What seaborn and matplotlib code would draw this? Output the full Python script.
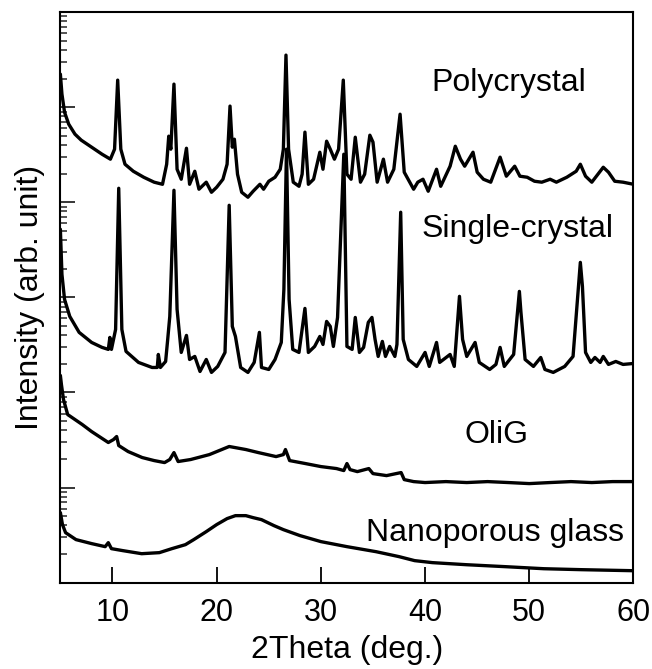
import numpy as np
import pandas as pd
import matplotlib
matplotlib.use("Agg")
import matplotlib.pyplot as plt
import seaborn as sns
from matplotlib.ticker import LogLocator, NullFormatter, FixedLocator

# ---------------- data (2theta in deg, log10 of intensity in arb. units) ----------------
poly_2theta = [5.0, 5.15, 5.4, 5.8, 6.4, 7.0, 8.0, 9.0, 9.8, 10.2, 10.5, 10.8, 11.2, 12.0, 13.0,
               14.0, 14.8, 15.2, 15.4, 15.6, 15.9, 16.2, 16.6, 17.1, 17.4, 17.9, 18.3, 19.0, 19.5,
               20.0, 20.6, 21.0, 21.28, 21.5, 21.7, 22.0, 22.4, 23.0, 23.5, 24.15, 24.5, 25.0,
               25.6, 26.1, 26.4, 26.65, 26.9, 27.35, 27.9, 28.2, 28.47, 28.8, 29.3, 29.9, 30.2,
               30.55, 30.9, 31.3, 31.7, 32.15, 32.5, 32.9, 33.3, 33.8, 34.2, 34.7, 35.0, 35.4,
               36.0, 36.4, 37.0, 37.6, 38.0, 38.9, 39.3, 39.8, 40.3, 41.1, 41.5, 42.4, 42.9,
               43.4, 43.8, 44.6, 45.0, 45.6, 46.3, 47.2, 47.8, 48.6, 49.1, 49.8, 50.5, 51.2,
               52.0, 52.6, 53.6, 54.5, 54.9, 55.4, 56.0, 57.1, 57.6, 58.2, 59.0, 60.0]
poly_log = [5.347, 5.137, 4.947, 4.821, 4.716, 4.653, 4.579, 4.505, 4.453, 4.558, 5.284, 4.558,
            4.400, 4.326, 4.263, 4.211, 4.189, 4.400, 4.695, 4.558, 5.242, 4.347, 4.242, 4.568,
            4.189, 4.326, 4.137, 4.211, 4.105, 4.158, 4.242, 4.400, 5.011, 4.579, 4.663, 4.295,
            4.105, 4.053, 4.116, 4.189, 4.137, 4.221, 4.263, 4.347, 4.558, 5.547, 4.558, 4.211,
            4.168, 4.295, 4.737, 4.189, 4.242, 4.526, 4.347, 4.642, 4.558, 4.453, 4.558, 5.284,
            4.295, 4.242, 4.684, 4.211, 4.295, 4.705, 4.632, 4.211, 4.453, 4.211, 4.347, 4.926,
            4.316, 4.137, 4.211, 4.242, 4.116, 4.347, 4.168, 4.379, 4.589, 4.453, 4.379, 4.526,
            4.316, 4.242, 4.211, 4.474, 4.274, 4.379, 4.274, 4.263, 4.221, 4.211, 4.242, 4.211,
            4.263, 4.326, 4.400, 4.274, 4.211, 4.368, 4.316, 4.221, 4.211, 4.189]

single_2theta = [5.0, 5.15, 5.4, 5.9, 6.8, 8.0, 9.0, 9.6, 9.75, 9.9, 10.3, 10.6, 10.9, 11.3, 12.5,
                 13.8, 14.3, 14.4, 14.6, 15.1, 15.3, 15.5, 15.9, 16.2, 16.6, 17.1, 17.4, 17.9,
                 18.4, 19.0, 19.5, 20.1, 20.8, 21.2, 21.5, 21.8, 22.3, 23.0, 23.6, 24.1, 24.3,
                 25.0, 25.6, 26.2, 26.45, 26.7, 26.95, 27.3, 27.9, 28.47, 28.8, 29.4, 29.9, 30.2,
                 30.55, 30.9, 31.2, 31.6, 32.2, 32.5, 33.0, 33.3, 33.7, 34.1, 34.55, 34.9, 35.2,
                 35.5, 35.9, 36.2, 36.6, 37.1, 37.3, 37.66, 37.9, 38.4, 39.2, 40.0, 40.4, 41.1,
                 41.4, 42.4, 42.8, 43.3, 43.6, 44.0, 44.8, 45.2, 46.2, 46.8, 47.2, 47.6, 48.5,
                 49.05, 49.2, 49.6, 50.4, 51.1, 51.5, 52.3, 53.4, 54.2, 54.9, 55.1, 55.4, 55.9,
                 56.3, 56.8, 57.1, 57.6, 58.3, 59.0, 60.0]
single_log = [3.716, 3.242, 2.979, 2.800, 2.632, 2.526, 2.474, 2.453, 2.579, 2.453, 2.663, 4.147,
              2.663, 2.432, 2.316, 2.263, 2.263, 2.400, 2.263, 2.326, 2.558, 2.800, 4.126, 2.874,
              2.421, 2.600, 2.347, 2.379, 2.221, 2.347, 2.211, 2.274, 2.421, 3.968, 2.695, 2.589,
              2.263, 2.211, 2.316, 2.632, 2.263, 2.242, 2.347, 2.526, 3.084, 4.558, 2.979, 2.453,
              2.421, 2.884, 2.421, 2.484, 2.589, 2.505, 2.747, 2.695, 2.484, 2.789, 4.505, 2.484,
              2.453, 2.789, 2.421, 2.474, 2.737, 2.789, 2.558, 2.379, 2.537, 2.379, 2.484, 2.379,
              2.505, 3.895, 2.558, 2.347, 2.274, 2.421, 2.274, 2.526, 2.316, 2.400, 2.274, 3.011,
              2.558, 2.379, 2.526, 2.316, 2.242, 2.295, 2.474, 2.274, 2.400, 3.063, 2.842, 2.347,
              2.274, 2.368, 2.242, 2.211, 2.274, 2.379, 3.368, 3.116, 2.421, 2.316, 2.368, 2.316,
              2.379, 2.295, 2.326, 2.295, 2.305]

olig_2theta = [5.0, 5.1, 5.3, 5.7, 7.1, 8.0, 9.6, 10.1, 10.4, 10.6, 11.5, 12.85, 14.0, 15.0, 15.5,
               15.9, 16.3, 17.5, 19.3, 21.2, 22.8, 24.0, 25.7, 26.4, 26.6, 27.0, 28.5, 30.0,
               31.5, 32.2, 32.5, 32.8, 33.5, 34.6, 35.0, 36.3, 37.7, 38.0, 38.9, 40.0, 42.0,
               44.0, 46.0, 48.0, 50.0, 52.0, 54.0, 56.0, 58.0, 60.0]
olig_log = [2.179, 2.084, 1.926, 1.768, 1.663, 1.589, 1.474, 1.505, 1.537, 1.442, 1.379, 1.316,
            1.284, 1.263, 1.295, 1.368, 1.274, 1.295, 1.347, 1.432, 1.400, 1.368, 1.326, 1.347,
            1.400, 1.284, 1.253, 1.221, 1.200, 1.179, 1.253, 1.189, 1.168, 1.200, 1.147, 1.126,
            1.158, 1.084, 1.063, 1.053, 1.063, 1.053, 1.063, 1.053, 1.042, 1.053, 1.063, 1.053,
            1.063, 1.063]

glass_2theta = [5.0, 5.2, 5.5, 6.5, 8.0, 9.3, 9.6, 9.9, 11.0, 12.8, 14.5, 15.7, 17.0, 17.8, 19.0,
                20.0, 21.0, 21.8, 22.8, 23.5, 24.3, 25.5, 26.4, 28.0, 30.0, 32.5, 35.3, 37.5,
                39.0, 40.7, 44.0, 47.8, 51.4, 55.0, 60.0]
glass_log = [0.737, 0.611, 0.526, 0.453, 0.411, 0.379, 0.421, 0.358, 0.337, 0.305, 0.316, 0.358,
             0.400, 0.453, 0.537, 0.611, 0.674, 0.705, 0.705, 0.684, 0.663, 0.600, 0.558, 0.495,
             0.432, 0.379, 0.326, 0.274, 0.232, 0.211, 0.189, 0.168, 0.147, 0.137, 0.126]

labels = ["Polycrystal", "Single-crystal", "OliG", "Nanoporous glass"]
label_x = [48.0, 48.9, 46.9, 46.7]
label_log = [5.17, 3.63, 1.47, 0.435]

x_ticks = [10, 20, 30, 40, 50, 60]

# ---------------- plotting ----------------
sns.set_theme(style="ticks")
plt.rcParams["font.family"] = ["Liberation Sans", "DejaVu Sans"]

fig = plt.figure(figsize=(6.52, 6.69), dpi=100)
ax = fig.add_axes([0.0926, 0.129, 0.879, 0.853])

series = [(poly_2theta, poly_log), (single_2theta, single_log),
          (olig_2theta, olig_log), (glass_2theta, glass_log)]
for xs, ls in series:
    df = pd.DataFrame({"two_theta": xs, "intensity": np.power(10.0, ls)})
    sns.lineplot(data=df, x="two_theta", y="intensity", ax=ax, color="black",
                 linewidth=2.4, estimator=None, sort=False)

ax.set_yscale("log")
ax.set_xlim(5, 60)
ax.set_ylim(1, 1e6)

ax.xaxis.set_major_locator(FixedLocator(x_ticks))
ax.set_xticklabels([str(t) for t in x_ticks])
ax.yaxis.set_major_locator(LogLocator(base=10, numticks=10))
ax.yaxis.set_minor_locator(LogLocator(base=10, subs=np.arange(2, 10), numticks=100))
ax.yaxis.set_major_formatter(NullFormatter())
ax.yaxis.set_minor_formatter(NullFormatter())

ax.tick_params(axis="x", which="major", direction="in", length=11.5, width=1.3,
               labelsize=22, pad=11, top=False, colors="black")
ax.tick_params(axis="x", which="minor", bottom=False, top=False)
ax.tick_params(axis="y", which="major", direction="in", length=10.5, width=1.3,
               left=True, right=False)
ax.tick_params(axis="y", which="minor", direction="in", length=5, width=1.1,
               left=True, right=False)

for s in ax.spines.values():
    s.set_linewidth(1.5)
    s.set_color("black")

ax.set_xlabel("2Theta (deg.)", fontsize=23, color="black", labelpad=5)
ax.set_ylabel("Intensity (arb. unit)", fontsize=23, color="black")
ax.yaxis.set_label_coords(-0.027, 0.5)

for txt, lx, ll in zip(labels, label_x, label_log):
    ax.text(lx, 10 ** ll, txt, fontsize=23, ha="center", va="baseline", color="black")

fig.savefig("out.png", dpi=100)
